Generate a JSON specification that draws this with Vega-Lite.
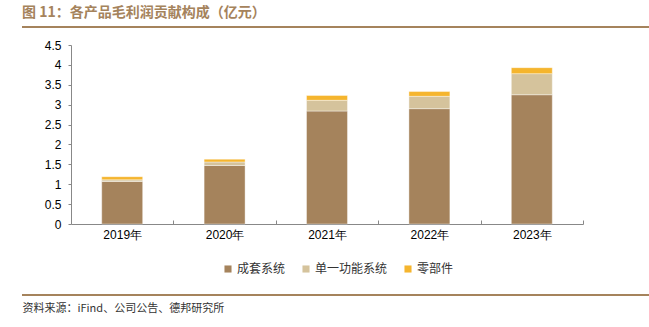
{
  "$schema": "https://vega.github.io/schema/vega-lite/v6.json",
  "autosize": {"type": "none"},
  "width": 512,
  "height": 179,
  "padding": {"left": 71, "top": 45, "right": 66, "bottom": 103},
  "background": "white",
  "config": {"view": {"stroke": null}, "font": "Liberation Sans"},
  "title": {
    "text": "图 11：各产品毛利润贡献构成（亿元）",
    "anchor": "start",
    "frame": "group",
    "dx": -49,
    "offset": 6,
    "font": "Noto Sans CJK SC",
    "fontSize": 14,
    "fontWeight": "bold",
    "color": "#a5835c"
  },
  "datasets": {
    "bars": [
      {"year": "2019年", "type": "成套系统", "k": 1, "v": 1.07},
      {"year": "2019年", "type": "单一功能系统", "k": 2, "v": 0.04},
      {"year": "2019年", "type": "零部件", "k": 3, "v": 0.08},
      {"year": "2020年", "type": "成套系统", "k": 1, "v": 1.47},
      {"year": "2020年", "type": "单一功能系统", "k": 2, "v": 0.09},
      {"year": "2020年", "type": "零部件", "k": 3, "v": 0.07},
      {"year": "2021年", "type": "成套系统", "k": 1, "v": 2.84},
      {"year": "2021年", "type": "单一功能系统", "k": 2, "v": 0.27},
      {"year": "2021年", "type": "零部件", "k": 3, "v": 0.12},
      {"year": "2022年", "type": "成套系统", "k": 1, "v": 2.90},
      {"year": "2022年", "type": "单一功能系统", "k": 2, "v": 0.31},
      {"year": "2022年", "type": "零部件", "k": 3, "v": 0.12},
      {"year": "2023年", "type": "成套系统", "k": 1, "v": 3.25},
      {"year": "2023年", "type": "单一功能系统", "k": 2, "v": 0.53},
      {"year": "2023年", "type": "零部件", "k": 3, "v": 0.15}
    ],
    "lines": [
      {"pos": 4.952},
      {"pos": -1.785}
    ]
  },
  "layer": [
    {
      "data": {"name": "bars"},
      "mark": {"type": "bar", "stroke": "#ffffff", "strokeWidth": 0.4},
      "encoding": {
        "x": {
          "field": "year",
          "type": "nominal",
          "sort": null,
          "scale": {"paddingInner": 0.6, "paddingOuter": 0.3},
          "axis": {
            "title": "资料来源：iFind、公司公告、德邦研究所",
            "titleFont": "Noto Sans CJK SC",
            "titleFontSize": 11,
            "titleFontWeight": "normal",
            "titleColor": "#333333",
            "titleAnchor": "start",
            "titleAlign": "left",
            "titleBaseline": "middle",
            "titleX": -49,
            "titleY": 84,
            "labelAngle": 0,
            "labelFontSize": 12,
            "labelColor": "#000000",
            "labelPadding": 9,
            "domainColor": "#888888",
            "tickColor": "#888888",
            "tickSize": -4,
            "tickOffset": 51.2,
            "labelOffset": -51.2
          }
        },
        "y": {
          "field": "v",
          "type": "quantitative",
          "stack": "zero",
          "scale": {"domain": [0, 4.5], "nice": false},
          "axis": {
            "title": null,
            "values": [0, 0.5, 1, 1.5, 2, 2.5, 3, 3.5, 4, 4.5],
            "format": "~g",
            "grid": false,
            "labelOverlap": false,
            "labelFontSize": 12,
            "labelColor": "#000000",
            "labelPadding": 7,
            "domainColor": "#888888",
            "tickColor": "#888888",
            "tickSize": 3
          }
        },
        "color": {
          "field": "type",
          "type": "nominal",
          "sort": ["成套系统", "单一功能系统", "零部件"],
          "scale": {
            "domain": ["成套系统", "单一功能系统", "零部件"],
            "range": ["#a5835c", "#d5c39c", "#f5b52e"]
          },
          "legend": {
            "title": null,
            "orient": "none",
            "direction": "horizontal",
            "legendX": 151,
            "legendY": 218,
            "symbolType": "square",
            "symbolSize": 50,
            "symbolStrokeWidth": 0,
            "labelFont": "Noto Sans CJK SC",
            "labelFontSize": 12,
            "labelColor": "#333333",
            "columnPadding": 14,
            "labelOffset": 3
          }
        },
        "order": {"field": "k", "type": "quantitative"}
      }
    },
    {
      "data": {"name": "lines"},
      "mark": {"type": "rule", "color": "#a5835c", "strokeWidth": 2, "clip": false},
      "encoding": {
        "y": {
          "field": "pos",
          "type": "quantitative",
          "axis": {
            "title": null,
            "values": [0, 0.5, 1, 1.5, 2, 2.5, 3, 3.5, 4, 4.5],
            "format": "~g",
            "grid": false,
            "labelOverlap": false,
            "labelFontSize": 12,
            "labelColor": "#000000",
            "labelPadding": 7,
            "domainColor": "#888888",
            "tickColor": "#888888",
            "tickSize": 3
          }
        },
        "x": {"value": -49},
        "x2": {"value": 578}
      }
    }
  ]
}
